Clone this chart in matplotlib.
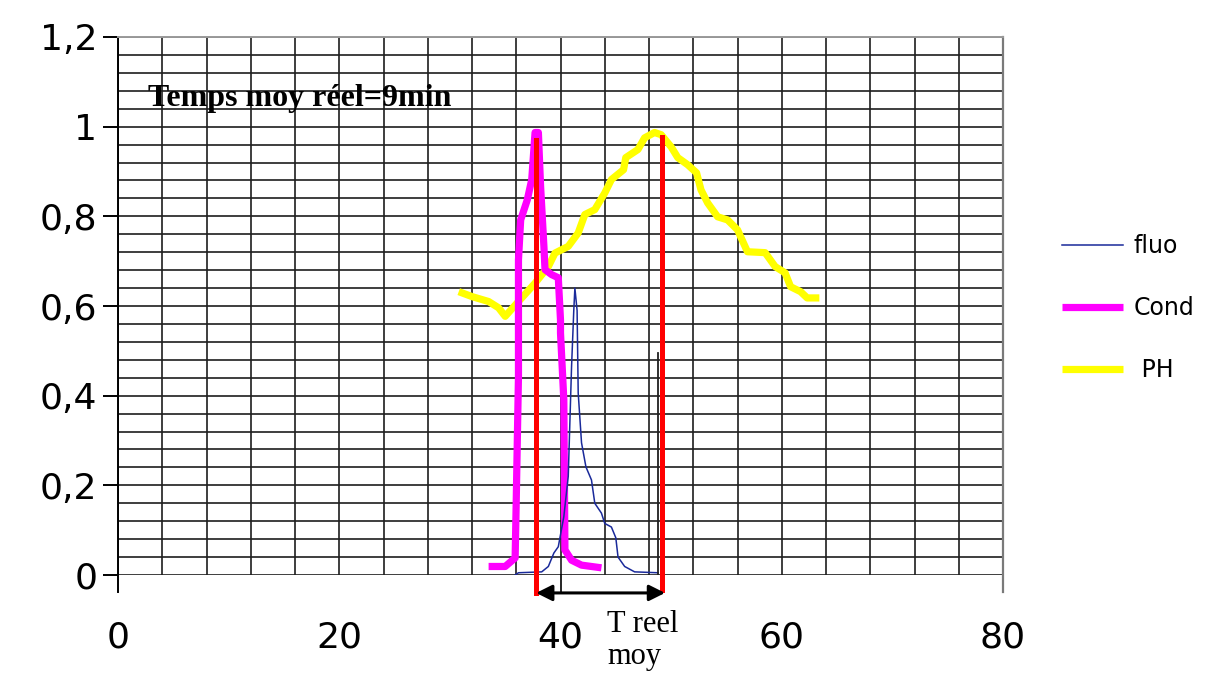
import matplotlib
matplotlib.use("Agg")
import matplotlib.pyplot as plt
from matplotlib.lines import Line2D

# --- data -------------------------------------------------------------
fluo_x = [35.9, 36.2, 38.3, 38.9, 39.4, 39.8, 40.3, 40.7, 41.0, 41.2, 41.3,
          41.5, 41.6, 41.9, 42.3, 42.8, 43.1, 43.7, 44.0, 44.6, 45.0, 45.2,
          45.8, 46.7, 48.8]
fluo_y = [0.0, 0.005, 0.007, 0.019, 0.049, 0.063, 0.13, 0.22, 0.465, 0.59, 0.64,
          0.59, 0.406, 0.295, 0.241, 0.212, 0.16, 0.138, 0.115, 0.107, 0.083, 0.04,
          0.019, 0.007, 0.005]

cond_x = [33.5, 35.0, 35.9, 36.0, 36.2, 36.2, 36.4, 37.0, 37.4, 37.7, 38.0,
          38.2, 38.5, 38.6, 39.2, 39.8, 40.0, 40.0, 40.3, 40.4, 41.0, 41.9, 43.7]
cond_y = [0.019, 0.019, 0.038, 0.167, 0.443, 0.703, 0.792, 0.837, 0.882, 0.987, 0.987,
          0.867, 0.733, 0.681, 0.670, 0.663, 0.569, 0.540, 0.391, 0.056, 0.033, 0.022, 0.016]

ph_x = [30.8, 32.0, 33.5, 34.4, 35.0, 36.2, 37.7, 38.9, 39.5, 40.7, 41.6, 42.2,
        43.1, 44.0, 44.6, 45.7, 45.9, 47.0, 47.6, 48.5, 49.1, 50.0, 50.6, 51.5,
        52.3, 52.7, 53.3, 54.2, 55.1, 56.0, 56.9, 58.5, 59.4, 60.3, 60.8, 61.7,
        62.3, 63.4]
ph_y = [0.632, 0.621, 0.610, 0.596, 0.577, 0.610, 0.651, 0.688, 0.718, 0.733, 0.763, 0.804,
        0.815, 0.852, 0.882, 0.904, 0.931, 0.949, 0.975, 0.987, 0.982, 0.955, 0.931, 0.915,
        0.897, 0.859, 0.830, 0.799, 0.792, 0.770, 0.721, 0.719, 0.688, 0.674, 0.643, 0.632,
        0.618, 0.618]

# red markers: start of response and mean residence time
t_start, t_start_top = 37.8, 0.97
t_mean, t_mean_top = 49.15, 0.978
fluo_tail_x, fluo_tail_top = 48.8, 0.495

series_labels = ["fluo", "Cond", " PH"]
x_ticks = [0, 20, 40, 60, 80]
x_tick_labels = ["0", "20", "40", "60", "80"]
y_ticks = [0, 0.2, 0.4, 0.6, 0.8, 1.0, 1.2]
y_tick_labels = ["0", "0,2", "0,4", "0,6", "0,8", "1", "1,2"]

title_text = "Temps moy réel=9min"
arrow_text_1 = "T reel"
arrow_text_2 = "moy"

# --- figure -----------------------------------------------------------
fig = plt.figure(figsize=(12.1, 6.74), dpi=100)
ax = fig.add_axes([118 / 1210, 1 - 575 / 674, (1003 - 118) / 1210, (575 - 37) / 674])
ax.set_xlim(0, 80)
ax.set_ylim(0, 1.2)

grid_color = "#1e1e1e"
ax.set_xticks(x_ticks)
ax.set_xticklabels(x_tick_labels)
ax.set_yticks(y_ticks)
ax.set_yticklabels(y_tick_labels)
ax.set_xticks([v for v in range(0, 81, 4)], minor=True)
ax.set_yticks([i * 0.04 for i in range(31)], minor=True)
ax.grid(True, which="both", color=grid_color, linewidth=1.2)
ax.set_axisbelow(True)

ax.tick_params(axis="x", which="both", length=0, pad=33, labelsize=26)
ax.tick_params(axis="y", which="major", length=11, width=1.4, direction="out",
               pad=4, labelsize=26, color="black")
ax.tick_params(axis="y", which="minor", length=0)
for lbl in ax.get_xticklabels() + ax.get_yticklabels():
    lbl.set_fontfamily("DejaVu Sans")

for side in ["top", "right", "bottom", "left"]:
    ax.spines[side].set_visible(False)
# frame: left axis in black, right border grey; both reach a little below zero
ax.plot([0, 0], [-0.038, 1.2], color="black", lw=1.4, clip_on=False, zorder=3)
ax.plot([80, 80], [-0.038, 1.2], color="#7a7a7a", lw=1.6, clip_on=False, zorder=3)
ax.plot([0, 80], [1.2, 1.2], color="#9a9a9a", lw=1.4, clip_on=False, zorder=3)

# curves
ph_line, = ax.plot(ph_x, ph_y, color="#ffff00", lw=5.2, solid_capstyle="butt",
                   solid_joinstyle="round", zorder=4)
cond_line, = ax.plot(cond_x, cond_y, color="#ff00ff", lw=5.2, solid_capstyle="butt",
                     solid_joinstyle="round", zorder=5)
fluo_line, = ax.plot(fluo_x, fluo_y, color="#1a2a9a", lw=1.1, zorder=6)
ax.plot([fluo_tail_x, fluo_tail_x], [0, fluo_tail_top], color="#202020", lw=1.3, zorder=6)

# red vertical markers
ax.plot([t_start, t_start], [-0.04, t_start_top], color="#ff0000", lw=3.6,
        clip_on=False, zorder=7)
ax.plot([t_mean, t_mean], [-0.033, t_mean_top], color="#ff0000", lw=3.6,
        clip_on=False, zorder=7)

# double arrow showing the mean time interval
ax.plot([40, 40], [0, -0.04], color="black", lw=1.2, clip_on=False, zorder=7)
ax.annotate("", xy=(t_start, -0.04), xytext=(t_mean + 0.3, -0.04),
            arrowprops=dict(arrowstyle="<|-|>", color="black", lw=2.2,
                            mutation_scale=24, shrinkA=0, shrinkB=0),
            annotation_clip=False, zorder=8)
ax.text(44.2, -0.127, arrow_text_1, fontfamily="Liberation Serif", fontsize=22,
        ha="left", va="baseline", clip_on=False)
ax.text(44.2, -0.199, arrow_text_2, fontfamily="Liberation Serif", fontsize=22,
        ha="left", va="baseline", clip_on=False)

# heading inside the plot
ax.text(2.7, 1.047, title_text, fontfamily="Liberation Serif", fontweight="bold",
        fontsize=23, ha="left", va="baseline", zorder=9)

# legend at the right of the plot
leg = ax.legend([fluo_line, cond_line, ph_line], series_labels,
                loc="center left", bbox_to_anchor=(1050 / 1210, 1 - 308 / 674),
                bbox_transform=fig.transFigure, frameon=False,
                prop={"family": "DejaVu Sans", "size": 17},
                handlelength=2.6, handletextpad=0.45, labelspacing=1.6, borderpad=0)

fig.savefig("out.png", dpi=100)
